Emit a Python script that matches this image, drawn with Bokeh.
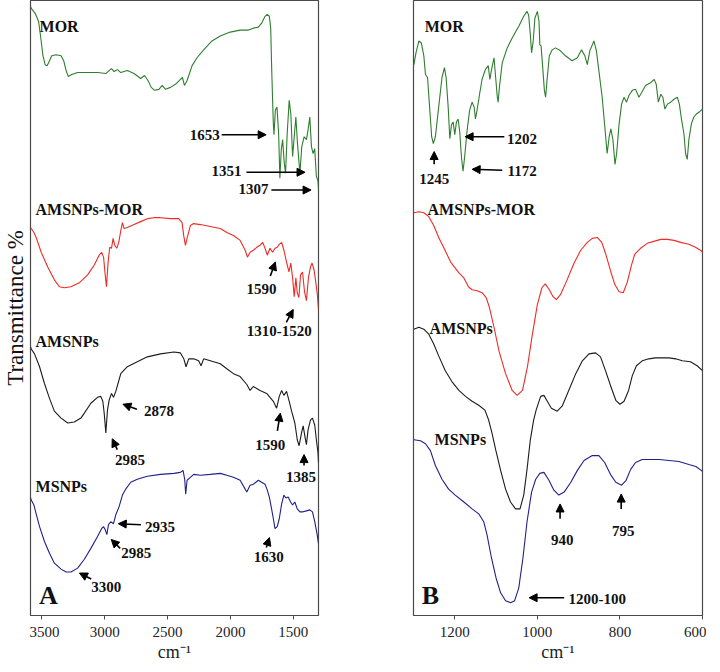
from bokeh.plotting import figure
from bokeh.models import (Range1d, FixedTicker, Arrow, NormalHead, ColumnDataSource, Title)
from bokeh.layouts import row
from bokeh.core.properties import value
from bokeh.embed import file_html
from bokeh.resources import INLINE

# ---------------- DATA (wavenumber cm-1, transmittance a.u.) ----------------
a_mor = [(3589,617),(3584,615),(3553,610),(3526,602),(3511,588),(3492,568),(3474,558),(3458,557),
         (3439,562),(3421,567),(3387,568),(3347,567),(3326,562),(3307,552),(3289,546),(3263,548),
         (3215,550),(3136,550),(3057,550),(2991,549),(2965,552),(2946,554),(2925,551),(2899,553),
         (2872,550),(2820,552),(2767,549),(2714,544),(2683,547),(2656,542),(2630,535),(2603,532),
         (2569,533),(2543,537),(2516,533),(2477,535),(2429,539),(2398,543),(2382,545),(2366,537),
         (2345,542),(2305,557),(2266,565),(2213,573),(2147,582),(2081,587),(2002,591),(1923,593),
         (1857,593),(1818,595),(1778,596),(1752,600),(1725,607),(1707,609),(1691,607),(1680,595),
         (1673,558),(1665,522),(1659,498),(1654,487),(1643,512),(1630,515),(1617,488),(1607,443),
         (1596,472),(1585,482),(1572,458),(1562,448),(1549,488),(1533,522),(1520,508),(1506,465),
         (1493,485),(1480,505),(1467,478),(1448,448),(1433,475),(1414,485),(1396,482),(1383,492),
         (1369,505),(1356,475),(1343,468),(1330,473),(1317,445),(1304,440),(1300,432)]

a_amsnps_mor = [(3589,393),(3584,392),(3563,388),(3545,383),(3505,368),(3453,353),(3400,340),(3360,333),
         (3321,332),(3268,333),(3202,337),(3136,345),(3083,355),(3044,365),(3025,368),(3009,363),
         (2996,345),(2986,333),(2973,358),(2960,373),(2946,372),(2933,382),(2920,375),(2904,372),
         (2888,378),(2872,390),(2859,398),(2846,392),(2820,393),(2767,396),(2714,399),(2661,402),
         (2609,403),(2556,403),(2477,402),(2411,402),(2385,398),(2372,385),(2358,375),(2345,382),
         (2319,395),(2292,397),(2240,396),(2160,394),(2081,392),(2029,388),(1976,385),(1923,380),
         (1883,370),(1865,363),(1844,368),(1818,370),(1791,373),(1765,375),(1744,378),(1725,372),
         (1707,365),(1686,372),(1665,368),(1646,372),(1628,373),(1612,376),(1593,378),(1575,370),
         (1554,358),(1535,348),(1520,357),(1506,342),(1493,323),(1480,342),(1469,327),(1456,322),
         (1443,345),(1427,348),(1411,328),(1396,319),(1380,342),(1364,353),(1351,357),(1335,350),
         (1322,338),(1309,325),(1300,310)]

a_amsnps = [(3589,272),(3584,270),(3558,265),(3518,252),(3479,235),(3439,220),(3400,207),(3347,200),
         (3294,195),(3242,196),(3189,200),(3162,205),(3110,215),(3057,221),(3031,222),(3015,217),
         (3004,205),(2991,185),(2978,208),(2965,218),(2946,225),(2930,221),(2912,227),(2894,235),
         (2872,245),(2820,252),(2741,257),(2661,262),(2556,265),(2450,267),(2398,266),(2371,260),
         (2353,252),(2332,260),(2292,260),(2253,258),(2234,253),(2213,260),(2160,258),(2081,255),
         (2029,250),(1976,245),(1923,242),(1870,234),(1844,228),(1818,232),(1765,228),(1712,225),
         (1659,217),(1633,210),(1612,222),(1593,228),(1575,223),(1554,227),(1533,217),(1514,207),
         (1488,195),(1469,178),(1454,172),(1435,185),(1422,192),(1406,180),(1396,173),(1383,188),
         (1364,198),(1348,200),(1330,193),(1317,178),(1304,165),(1300,155)]

a_msnps = [(3589,119),(3584,117),(3563,112),(3545,103),(3518,90),(3479,75),(3439,63),(3400,53),
         (3347,47),(3307,44),(3268,44),(3215,48),(3162,57),(3110,68),(3057,80),(3025,88),
         (3009,90),(2996,87),(2983,82),(2970,92),(2952,95),(2930,93),(2912,102),(2886,110),
         (2859,122),(2833,128),(2793,135),(2741,138),(2661,141),(2556,143),(2450,144),(2398,145),
         (2377,147),(2364,138),(2356,123),(2345,137),(2319,140),(2292,143),(2240,142),(2160,143),
         (2081,144),(2029,142),(1976,140),(1923,137),(1883,128),(1870,125),(1844,132),(1818,133),
         (1778,137),(1752,135),(1725,133),(1707,127),(1691,120),(1673,108),(1659,98),(1646,88),
         (1628,90),(1612,98),(1593,113),(1575,122),(1559,119),(1541,120),(1522,115),(1506,112),
         (1488,115),(1469,108),(1448,105),(1422,105),(1396,106),(1369,107),(1348,105),(1330,95),
         (1312,83),(1300,73)]

b_mor = [(1299,558),(1294,570),(1287,582),(1281,580),(1275,567),(1271,548),(1266,545),(1261,515),
         (1256,485),(1252,478),(1247,485),(1239,515),(1231,545),(1225,555),(1221,545),(1216,515),
         (1212,483),(1208,497),(1204,500),(1200,487),(1196,500),(1192,503),(1188,490),(1184,465),
         (1180,450),(1176,465),(1170,492),(1164,512),(1158,520),(1153,515),(1150,503),(1146,512),
         (1140,528),(1134,543),(1126,553),(1119,557),(1115,543),(1111,553),(1105,565),(1101,545),
         (1097,525),(1095,520),(1092,535),(1085,560),(1073,575),(1061,585),(1045,597),(1033,607),
         (1025,612),(1021,608),(1017,588),(1014,570),(1010,582),(1006,605),(1000,612),(996,602),
         (994,578),(991,577),(987,555),(983,532),(980,525),(976,545),(971,567),(964,573),
         (956,575),(944,572),(932,567),(916,562),(903,565),(893,573),(885,567),(879,558),
         (873,572),(863,582),(857,572),(851,552),(843,525),(836,492),(831,468),(826,485),
         (822,493),(817,482),(812,457),(808,468),(802,498),(796,518),(790,525),(784,520),
         (778,527),(770,532),(762,533),(754,525),(747,530),(738,537),(725,540),(717,543),
         (712,538),(707,520),(701,528),(696,525),(691,513),(685,518),(677,520),(669,523),
         (661,525),(656,518),(651,503),(645,488),(641,468),(637,462),(633,482),(627,498),
         (621,505),(615,508),(608,510),(600,513)]

b_amsnps_mor = [(1299,408),(1287,409),(1275,408),(1263,404),(1251,395),(1239,383),(1226,372),(1210,358),
         (1190,347),(1178,342),(1167,333),(1158,330),(1146,329),(1134,327),(1124,322),(1116,312),
         (1105,292),(1093,268),(1077,245),(1061,228),(1049,223),(1036,228),(1024,252),(1012,285),
         (1000,315),(989,332),(981,336),(971,330),(962,323),(954,320),(944,325),(928,340),
         (911,357),(895,370),(879,378),(867,382),(855,383),(844,378),(835,367),(822,348),
         (812,335),(802,328),(792,327),(782,338),(772,355),(764,366),(750,372),(734,377),
         (718,379),(701,381),(685,381),(669,380),(653,378),(633,376),(617,373),(605,370),(600,368)]

b_amsnps = [(1299,290),(1287,292),(1275,290),(1263,285),(1251,275),(1239,263),(1223,248),(1207,237),
         (1190,228),(1174,222),(1158,217),(1142,213),(1127,208),(1118,198),(1110,185),(1101,168),
         (1089,147),(1077,128),(1065,115),(1053,108),(1042,108),(1033,122),(1025,148),(1017,178),
         (1009,198),(1003,208),(992,222),(984,223),(976,217),(966,210),(952,207),(940,212),
         (924,228),(907,245),(891,258),(875,265),(859,266),(847,262),(835,248),(822,232),
         (810,218),(800,214),(790,217),(779,228),(770,243),(760,253),(746,258),(730,260),
         (714,261),(697,261),(681,261),(665,260),(649,258),(629,257),(613,253),(600,248)]

b_msnps = [(1299,178),(1283,177),(1271,174),(1259,167),(1247,152),(1231,138),(1215,128),(1199,122),
         (1178,115),(1158,108),(1142,103),(1130,95),(1122,82),(1111,58),(1100,38),(1089,23),
         (1077,15),(1065,13),(1055,15),(1045,28),(1035,58),(1025,95),(1014,125),(1004,138),
         (994,144),(984,145),(972,137),(960,127),(948,122),(935,125),(919,135),(903,147),
         (887,157),(867,162),(851,162),(837,155),(823,143),(810,135),(796,132),(785,137),
         (774,148),(762,155),(746,158),(725,158),(705,158),(681,157),(657,156),(633,153),
         (616,151),(600,146)]

a_ticks = [3500, 3000, 2500, 2000, 1500]
b_ticks = [1200, 1000, 800, 600]

y_label = "Transmittance %"
x_label = "cm\u207b\u00b9"

# sample names (x, y, text)
a_names = [(3518, 597, "MOR"), (3550, 411, "AMSNPs-MOR"), (3550, 278, "AMSNPs"), (3550, 131, "MSNPs")]
b_names = [(1273, 597, "MOR"), (1266, 411, "AMSNPs-MOR"), (1261, 291, "AMSNPs"), (1249, 178, "MSNPs")]

# peak labels (x, y, text)
a_peaks = [(2205, 487, "1653"), (2031, 450, "1351"), (1817, 432, "1307"),
           (1754, 331, "1590"), (1612, 288, "1310-1520"),
           (2569, 207, "2878"), (2798, 158, "2985"), (1683, 173, "1590"), (1439, 140, "1385"),
           (2561, 90, "2935"), (2750, 63, "2985"), (2987, 29, "3300"), (1696, 59, "1630")]
b_peaks = [(1037, 483, "1202"), (1037, 450, "1172"), (1250, 442, "1245"),
           (940, 76, "940"), (792, 86, "795"), (855, 17, "1200-100")]

# arrows (x_start, y_start, x_end, y_end)
a_arrows = [(2070, 487, 1716, 487), (1873, 449, 1407, 449), (1675, 431, 1359, 431),
            (1683, 344, 1643, 358), (1556, 297, 1501, 310),
            (2744, 209, 2855, 214), (2900, 168, 2940, 179), (1627, 187, 1604, 205), (1415, 152, 1415, 163),
            (2712, 92, 2892, 93), (2877, 68, 2948, 77), (3107, 37, 3201, 43), (1715, 69, 1690, 79)]
b_arrows = [(1080, 485, 1175, 485), (1085, 451, 1158, 452), (1250, 457, 1250, 470),
            (945, 98, 945, 113), (797, 108, 797, 123), (935, 18, 1020, 18)]

colors = {"MOR": "#2f7d2f", "AMSNPs-MOR": "#ee2b26", "AMSNPs": "#1c1c1c", "MSNPs": "#20208c"}

SERIF = "Liberation Serif"
H = 664


def make_panel(xr, ticks, series, names, peaks, arrows, letter, letter_x, width, bl, br):
    p = figure(width=width, height=H, x_range=Range1d(*xr), y_range=Range1d(0, 623),
               output_backend="svg", toolbar_location=None, y_axis_location=None,
               min_border_left=bl, min_border_right=br, min_border_top=0, min_border_bottom=47)
    p.grid.visible = False
    p.outline_line_color = "#4a4a4a"
    p.outline_line_width = 1.2
    p.background_fill_color = "white"
    p.border_fill_color = "white"
    ax = p.xaxis[0]
    ax.ticker = FixedTicker(ticks=ticks)
    ax.axis_line_color = "#4a4a4a"
    ax.major_tick_line_color = "#4a4a4a"
    ax.major_tick_out = 4
    ax.major_tick_in = 0
    ax.minor_tick_line_color = None
    ax.major_label_text_font = SERIF
    ax.major_label_text_font_size = "15px"
    ax.major_label_text_color = "#222222"
    ax.major_label_standoff = 7
    ax.axis_label = x_label
    ax.axis_label_text_font = SERIF
    ax.axis_label_text_font_size = "18px"
    ax.axis_label_text_font_style = "normal"
    ax.axis_label_text_color = "#222222"
    ax.axis_label_standoff = 2

    for name, pts in series:
        xs = [q[0] for q in pts]
        ys = [q[1] for q in pts]
        p.line(xs, ys, line_color=colors[name], line_width=1.1)

    ns = ColumnDataSource(dict(x=[n[0] for n in names], y=[n[1] for n in names], t=[n[2] for n in names]))
    p.text(x="x", y="y", text="t", source=ns, text_font=value(SERIF), text_font_style="bold",
           text_font_size="16px", text_align="left", text_baseline="middle", text_color="#111111")
    ps = ColumnDataSource(dict(x=[n[0] for n in peaks], y=[n[1] for n in peaks], t=[n[2] for n in peaks]))
    p.text(x="x", y="y", text="t", source=ps, text_font=value(SERIF), text_font_style="bold",
           text_font_size="15px", text_align="center", text_baseline="middle", text_color="#111111")
    p.text(x=[letter_x], y=[20], text=[letter], text_font=value(SERIF), text_font_style="bold",
           text_font_size="26px", text_align="center", text_baseline="middle", text_color="#111111")

    asrc = ColumnDataSource(dict(x0=[a[0] for a in arrows], y0=[a[1] for a in arrows],
                                 x1=[a[2] for a in arrows], y1=[a[3] for a in arrows]))
    p.add_layout(Arrow(end=NormalHead(size=8, fill_color="black", line_color="black", line_width=1),
                       x_start="x0", y_start="y0", x_end="x1", y_end="y1", source=asrc,
                       line_color="black", line_width=1.6))
    return p


# y-axis title strip: a side title, shifted up toward the reference position
LW = 29
pL = figure(width=LW, height=H, x_range=Range1d(0, 1), y_range=Range1d(0, 1), title=None,
            output_backend="svg", toolbar_location=None, x_axis_location=None, y_axis_location=None,
            min_border_left=0, min_border_right=0, min_border_top=0, min_border_bottom=47,
            outline_line_color=None)
pL.grid.visible = False
pL.add_layout(Title(text=y_label, align="center", offset=38, standoff=0, text_font=SERIF,
                    text_font_size="23px", text_font_style="normal", text_color="#111111"), "left")

pA = make_panel((3590, 1300), a_ticks,
                [("MOR", a_mor), ("AMSNPs-MOR", a_amsnps_mor), ("AMSNPs", a_amsnps), ("MSNPs", a_msnps)],
                a_names, a_peaks, a_arrows, "A", 3447, 1 + 288 + 44, 1, 44)
pB = make_panel((1300, 600), b_ticks,
                [("MOR", b_mor), ("AMSNPs-MOR", b_amsnps_mor), ("AMSNPs", b_amsnps), ("MSNPs", b_msnps)],
                b_names, b_peaks, b_arrows, "B", 1259, 51 + 289 + 4, 51, 4)

layout = row(pL, pA, pB)
open("out.html", "w").write(file_html(layout, INLINE))
